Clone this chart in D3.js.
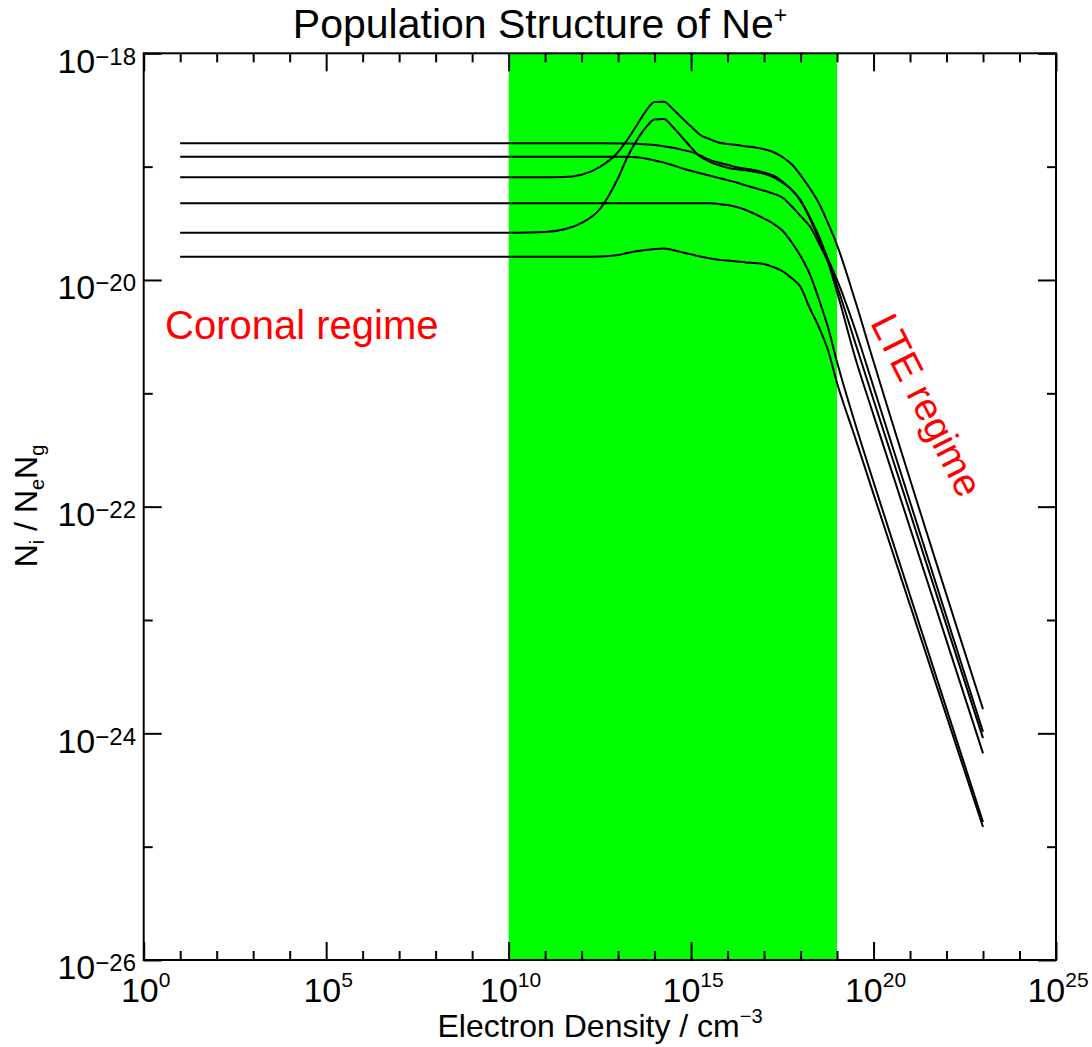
<!DOCTYPE html>
<html>
<head>
<meta charset="utf-8">
<script src="https://cdn.jsdelivr.net/npm/d3@7"></script>
<style>
  html, body { margin: 0; padding: 0; background: #fff; }
  svg { display: block; }
  text { font-family: "Liberation Sans", Arial, Helvetica, sans-serif; fill: #000; }
</style>
</head>
<body>
<svg id="chart" width="1092" height="1047"></svg>
<script>
// log10 of electron density (cm^-3) at which every level population was computed
const logDensity = [1, 10, 10.5, 11, 11.5, 12, 12.5, 13, 13.25, 13.5, 13.75, 14, 14.25, 14.5, 14.75,
  15, 15.25, 15.5, 15.75, 16, 16.25, 16.5, 16.75, 17, 17.25, 17.5, 17.75, 18, 18.25, 18.5, 18.75,
  19, 19.5, 20, 23];

// log10 of N_i / (N_e N_g) for six excited levels of Ne+
const level1 = [-18.794, -18.794, -18.794, -18.794, -18.794, -18.794, -18.794, -18.795, -18.796, -18.798, -18.803,
  -18.809, -18.820, -18.834, -18.851, -18.870, -18.902, -18.938, -18.964, -18.984, -19.005, -19.018, -19.032,
  -19.052, -19.078, -19.131, -19.202, -19.294, -19.444, -19.612, -19.815, -20.000, -20.441, -20.944, -23.986];
const level2 = [-18.912, -18.912, -18.912, -18.912, -18.912, -18.912, -18.912, -18.912, -18.913, -18.918, -18.928,
  -18.946, -18.964, -18.988, -19.014, -19.037, -19.058, -19.079, -19.099, -19.120, -19.140, -19.165, -19.189,
  -19.213, -19.238, -19.272, -19.347, -19.436, -19.524, -19.674, -19.842, -20.106, -20.689, -21.192, -24.177];
const level3 = [-19.094, -19.094, -19.094, -19.094, -19.092, -19.071, -19.003, -18.871, -18.765, -18.641, -18.514,
  -18.430, -18.427, -18.491, -18.571, -18.646, -18.721, -18.756, -18.787, -18.800, -18.809, -18.821, -18.831,
  -18.847, -18.871, -18.915, -18.977, -19.074, -19.189, -19.321, -19.497, -19.692, -20.186, -20.720, -23.786];
const level4 = [-19.324, -19.324, -19.324, -19.324, -19.324, -19.324, -19.324, -19.324, -19.324, -19.324, -19.324,
  -19.324, -19.324, -19.324, -19.324, -19.324, -19.324, -19.324, -19.330, -19.339, -19.356, -19.383, -19.418,
  -19.458, -19.502, -19.564, -19.665, -19.789, -19.947, -20.168, -20.415, -20.724, -21.271, -21.783, -24.783];
const level5 = [-19.583, -19.583, -19.581, -19.577, -19.555, -19.497, -19.374, -19.100, -18.919, -18.774, -18.659,
  -18.584, -18.580, -18.650, -18.739, -18.831, -18.911, -18.955, -18.986, -19.009, -19.024, -19.033, -19.046,
  -19.062, -19.092, -19.140, -19.202, -19.303, -19.453, -19.639, -19.824, -20.053, -20.556, -21.059, -24.042];
const level6 = [-19.795, -19.795, -19.795, -19.795, -19.795, -19.795, -19.793, -19.780, -19.762, -19.747, -19.736,
  -19.727, -19.722, -19.736, -19.756, -19.774, -19.793, -19.808, -19.821, -19.829, -19.837, -19.845, -19.850,
  -19.859, -19.886, -19.921, -19.983, -20.062, -20.247, -20.415, -20.618, -20.909, -21.395, -21.889, -24.827];
const levels = [level1, level2, level3, level4, level5, level6];

// intermediate (collisional-radiative) density band, log10 cm^-3
const crBand = [10, 19];

// axis decades
const xExponents = d3.range(0, 26);
const xLabelExponents = [0, 5, 10, 15, 20, 25];
const yExponents = d3.range(-26, -17);
const yLabelExponents = [-26, -24, -22, -20, -18];

const pow10 = e => Math.pow(10, e);

const plotLeft = 143.7, plotRight = 1056, plotTop = 53.3, plotBottom = 960;
const x = d3.scaleLog().domain([1e0, 1e25]).range([plotLeft, plotRight]);
const y = d3.scaleLog().domain([1e-26, 1e-18]).range([plotBottom, plotTop]);

const svg = d3.select("#chart");

// collisional-radiative band
svg.append("rect")
  .attr("x", x(pow10(crBand[0])))
  .attr("y", plotTop)
  .attr("width", x(pow10(crBand[1])) - x(pow10(crBand[0])))
  .attr("height", plotBottom - plotTop)
  .attr("fill", "#00ff00");

// population curves
const line = d3.line()
  .x((d, i) => x(pow10(logDensity[i])))
  .y(d => y(pow10(d)))
  .curve(d3.curveMonotoneX);

svg.append("g")
  .selectAll("path")
  .data(levels)
  .join("path")
  .attr("d", d => line(d))
  .attr("fill", "none")
  .attr("stroke", "#000")
  .attr("stroke-width", 2)
  .attr("stroke-linejoin", "round");

// frame
svg.append("rect")
  .attr("x", plotLeft).attr("y", plotTop)
  .attr("width", plotRight - plotLeft).attr("height", plotBottom - plotTop)
  .attr("fill", "none").attr("stroke", "#000").attr("stroke-width", 2);

// inward ticks on all four sides
const xMajor = xExponents.filter(e => e % 5 === 0).map(pow10);
const xMinor = xExponents.filter(e => e % 5 !== 0).map(pow10);
const yMajor = yExponents.filter(e => e % 2 === 0).map(pow10);
const yMinor = yExponents.filter(e => e % 2 !== 0).map(pow10);

function addAxis(gen, vals, len, tx, ty) {
  const g = svg.append("g")
    .attr("transform", `translate(${tx},${ty})`)
    .call(gen.tickValues(vals).tickSizeInner(-len).tickSizeOuter(0).tickFormat(""));
  g.select(".domain").remove();
  g.selectAll(".tick line").attr("stroke", "#000").attr("stroke-width", 2);
}
addAxis(d3.axisBottom(x), xMajor, 18, 0, plotBottom);
addAxis(d3.axisBottom(x), xMinor, 9, 0, plotBottom);
addAxis(d3.axisTop(x), xMajor, 18, 0, plotTop);
addAxis(d3.axisTop(x), xMinor, 9, 0, plotTop);
addAxis(d3.axisLeft(y), yMajor, 18, plotLeft, 0);
addAxis(d3.axisLeft(y), yMinor, 9, plotLeft, 0);
addAxis(d3.axisRight(y), yMajor, 18, plotRight, 0);
addAxis(d3.axisRight(y), yMinor, 9, plotRight, 0);

// x tick labels: 10^n
const xl = svg.append("g").selectAll("text")
  .data(xLabelExponents)
  .join("text")
  .attr("x", e => x(pow10(e)) + 2)
  .attr("y", 1001.7)
  .attr("text-anchor", "middle")
  .attr("font-size", 34);
xl.append("tspan").text("10");
xl.append("tspan").attr("font-size", 21).attr("dy", -15).text(e => e);

// y tick labels: 10^-n
const yl = svg.append("g").selectAll("text")
  .data(yLabelExponents)
  .join("text")
  .attr("x", 136)
  .attr("y", e => y(pow10(e)) + 19.4)
  .attr("text-anchor", "end")
  .attr("font-size", 34);
yl.append("tspan").text("10");
yl.append("tspan").attr("font-size", 24).attr("dy", -8).text(e => "\u2212" + Math.abs(e));

// x axis title
const xt = svg.append("text")
  .attr("x", 600).attr("y", 1036.7)
  .attr("text-anchor", "middle")
  .attr("font-size", 32);
xt.append("tspan").text("Electron Density / cm");
xt.append("tspan").attr("font-size", 20).attr("dy", -14).text("\u22123");

// y axis title
const yt = svg.append("text")
  .attr("transform", "translate(37,506) rotate(-90)")
  .attr("text-anchor", "middle")
  .attr("font-size", 32);
yt.append("tspan").text("N");
yt.append("tspan").attr("font-size", 20).attr("dy", 7).text("i");
yt.append("tspan").attr("dy", -7).text(" / N");
yt.append("tspan").attr("font-size", 20).attr("dy", 7).text("e");
yt.append("tspan").attr("dy", -7).text("N");
yt.append("tspan").attr("font-size", 20).attr("dy", 7).text("g");

// title
const tt = svg.append("text")
  .attr("x", 540).attr("y", 38)
  .attr("text-anchor", "middle")
  .attr("font-size", 41);
tt.append("tspan").text("Population Structure of Ne");
tt.append("tspan").attr("font-size", 23).attr("dy", -15).text("+");

// regime annotations
svg.append("text")
  .attr("x", 165).attr("y", 339)
  .attr("font-size", 40)
  .style("fill", "#ff0000")
  .text("Coronal regime");

svg.append("text")
  .attr("transform", "translate(927,405) rotate(63)")
  .attr("text-anchor", "middle")
  .attr("dy", "0.35em")
  .attr("font-size", 39)
  .style("fill", "#ff0000")
  .text("LTE regime");
</script>
</body>
</html>
